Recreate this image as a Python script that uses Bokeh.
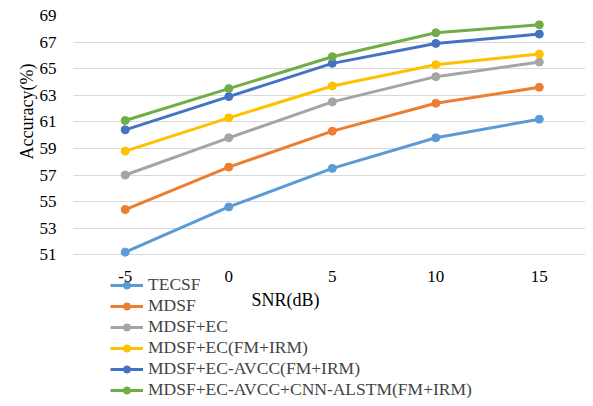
import math
from bokeh.plotting import figure
from bokeh.models import Legend, LegendItem, FixedTicker, Label, Range1d, Title
from bokeh.embed import file_html
from bokeh.resources import INLINE

snr = [-5, 0, 5, 10, 15]
snr_labels = {-5: "-5", 0: "0", 5: "5", 10: "10", 15: "15"}
series_names = ["TECSF", "MDSF", "MDSF+EC", "MDSF+EC(FM+IRM)",
                "MDSF+EC-AVCC(FM+IRM)", "MDSF+EC-AVCC+CNN-ALSTM(FM+IRM)"]
tecsf = [51.2, 54.6, 57.5, 59.8, 61.2]
mdsf = [54.4, 57.6, 60.3, 62.4, 63.6]
mdsf_ec = [57.0, 59.8, 62.5, 64.4, 65.5]
mdsf_ec_fm = [58.8, 61.3, 63.7, 65.3, 66.1]
mdsf_avcc = [60.4, 62.9, 65.4, 66.9, 67.6]
mdsf_alstm = [61.1, 63.5, 65.9, 67.7, 68.3]
y_ticks = [51, 53, 55, 57, 59, 61, 63, 65, 67, 69]
colors = ["#5B9BD5", "#ED7D31", "#A5A5A5", "#FFC000", "#4472C4", "#70AD47"]

FONT = "Liberation Serif"

p = figure(width=585, height=398, output_backend="svg", toolbar_location=None,
           x_range=Range1d(-7.5, 17.23), y_range=Range1d(40.19, 69),
           min_border_left=73, min_border_right=0, min_border_top=15,
           min_border_bottom=0)
p.outline_line_color = None
p.background_fill_color = "white"
p.border_fill_color = "white"

p.xgrid.grid_line_color = None
p.ygrid.grid_line_color = "#D9D9D9"
p.ygrid.grid_line_width = 1

p.xaxis.ticker = FixedTicker(ticks=snr)
p.xaxis.major_label_overrides = snr_labels
p.xaxis.fixed_location = 51
p.yaxis.ticker = FixedTicker(ticks=y_ticks)
for ax in (p.xaxis, p.yaxis):
    ax.axis_line_color = None
    ax.major_tick_line_color = None
    ax.minor_tick_line_color = None
    ax.major_label_text_font = FONT
    ax.major_label_text_font_size = "17px"
    ax.major_label_text_color = "#000000"
p.yaxis.major_label_standoff = 11
p.xaxis.major_label_standoff = 10

all_series = [tecsf, mdsf, mdsf_ec, mdsf_ec_fm, mdsf_avcc, mdsf_alstm]
items = []
for name, ys, c in zip(series_names, all_series, colors):
    r1 = p.line(snr, ys, line_color=c, line_width=3)
    r2 = p.scatter(snr, ys, size=8, fill_color=c, line_color=c)
    items.append(LegendItem(label=name, renderers=[r1, r2]))

legend = Legend(items=items, location=(37, -2), orientation="vertical",
                padding=0, margin=0, spacing=0, label_height=18, glyph_height=18,
                glyph_width=33, label_standoff=5,
                label_text_font=FONT, label_text_font_size="17.5px",
                border_line_color=None, background_fill_alpha=0)
p.add_layout(legend, "center")

p.add_layout(Label(x=212, y=99, x_units="screen", y_units="screen", text="SNR(dB)",
                   text_font=FONT, text_font_size="18px", text_align="center",
                   text_baseline="middle", text_color="#000000"))

ytitle = Title(text="Accuracy(%)", align="left", offset=239, vertical_align="bottom",
               text_font=FONT, text_font_size="18px", text_font_style="normal",
               text_color="#000000", standoff=0)
p.add_layout(ytitle, "left")

open("out.html", "w").write(file_html(p, INLINE))
